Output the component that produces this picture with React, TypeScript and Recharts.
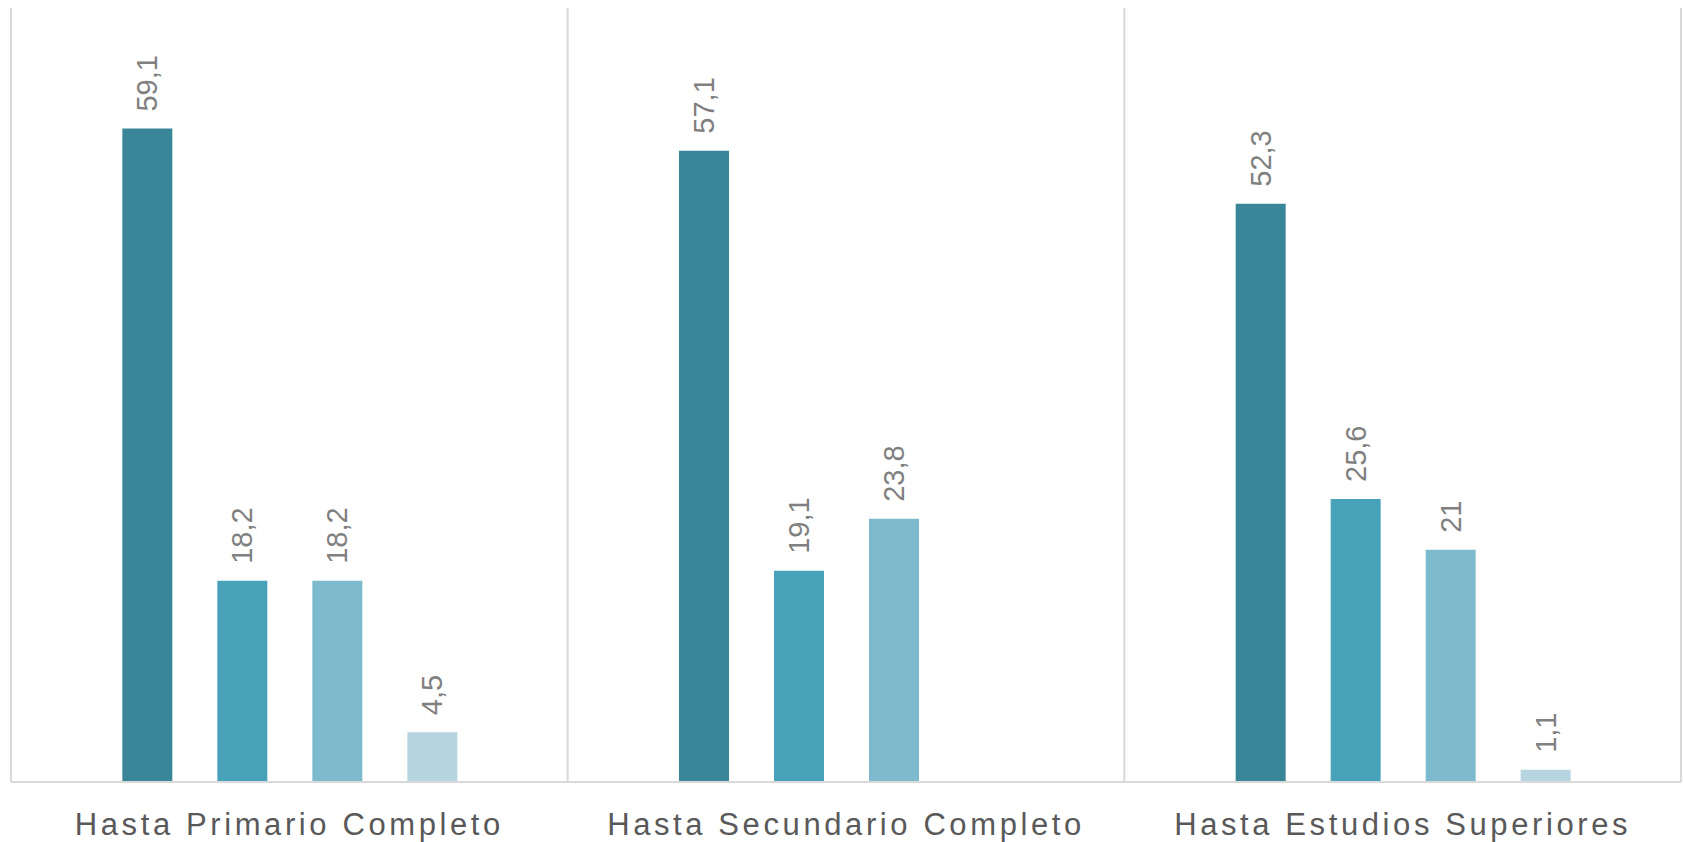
import React from "react";
import { BarChart, Bar, XAxis, YAxis, LabelList, CartesianGrid } from "recharts";

const categories = ["Hasta Primario Completo", "Hasta Secundario Completo", "Hasta Estudios Superiores"];
const serie1 = [59.1, 57.1, 52.3];
const serie2 = [18.2, 19.1, 25.6];
const serie3 = [18.2, 23.8, 21];
const serie4: (number | null)[] = [4.5, null, 1.1];

const colors = ["#3A8699", "#48A2BA", "#7EBACE", "#B6D5E0"];

const data = categories.map((c, i) => ({
  name: c,
  s1: serie1[i],
  s2: serie2[i],
  s3: serie3[i],
  s4: serie4[i],
}));

const fmt = (v: number) => String(v).replace(".", ",");

const ValueLabel = (props: any) => {
  const { x, y, width, value } = props;
  if (value === null || value === undefined) return null;
  const cx = Number(x) + Number(width) / 2;
  const by = Number(y) - 17;
  return (
    <text
      x={cx}
      y={by}
      transform={`rotate(-90 ${cx} ${by})`}
      textAnchor="start"
      dominantBaseline="central"
      fill="#808080"
      fontSize={29}
      fontFamily="'Liberation Sans', Arial, sans-serif"
    >
      {fmt(value)}
    </text>
  );
};

const CatTick = (props: any) => {
  const { x, y, payload } = props;
  return (
    <text
      x={x}
      y={y}
      dy={53}
      textAnchor="middle"
      fill="#595959"
      fontSize={31}
      letterSpacing={3.6}
      fontFamily="'Liberation Sans', Arial, sans-serif"
    >
      {payload.value}
    </text>
  );
};

// category boundaries from the band scale of the category axis
const boundaryGenerator = (args: any) => {
  const { xAxis, offset } = args || {};
  const scale = xAxis && xAxis.scale;
  if (scale && typeof scale.bandwidth === "function" && typeof scale === "function") {
    const step = typeof scale.step === "function" ? scale.step() : scale.bandwidth();
    const starts = categories.map((c) => scale(c));
    const pts = [...starts, starts[starts.length - 1] + step];
    return pts;
  }
  const left = offset.left;
  const w = offset.width;
  return [0, 1, 2, 3].map((i) => left + (w * i) / categories.length);
};

export default function App() {
  return (
    <div style={{ position: "absolute", left: 0, top: 0, background: "#fff" }}>
      <BarChart
        width={1683}
        height={842}
        data={data}
        margin={{ top: 8, right: 2, left: 11, bottom: 0 }}
        barCategoryGap="20%"
        barGap={45}
      >
        <CartesianGrid
          horizontal={false}
          vertical={true}
          stroke="#d9d9d9"
          strokeWidth={2}
          verticalCoordinatesGenerator={boundaryGenerator}
        />
        <XAxis
          dataKey="name"
          height={60}
          axisLine={{ stroke: "#d9d9d9", strokeWidth: 2 }}
          tickLine={false}
          tickSize={0}
          tickMargin={0}
          interval={0}
          tick={<CatTick />}
        />
        <YAxis hide domain={[0, 70]} />
        <Bar dataKey="s1" fill={colors[0]} isAnimationActive={false}>
          <LabelList dataKey="s1" content={<ValueLabel />} />
        </Bar>
        <Bar dataKey="s2" fill={colors[1]} isAnimationActive={false}>
          <LabelList dataKey="s2" content={<ValueLabel />} />
        </Bar>
        <Bar dataKey="s3" fill={colors[2]} isAnimationActive={false}>
          <LabelList dataKey="s3" content={<ValueLabel />} />
        </Bar>
        <Bar dataKey="s4" fill={colors[3]} isAnimationActive={false}>
          <LabelList dataKey="s4" content={<ValueLabel />} />
        </Bar>
      </BarChart>
    </div>
  );
}
